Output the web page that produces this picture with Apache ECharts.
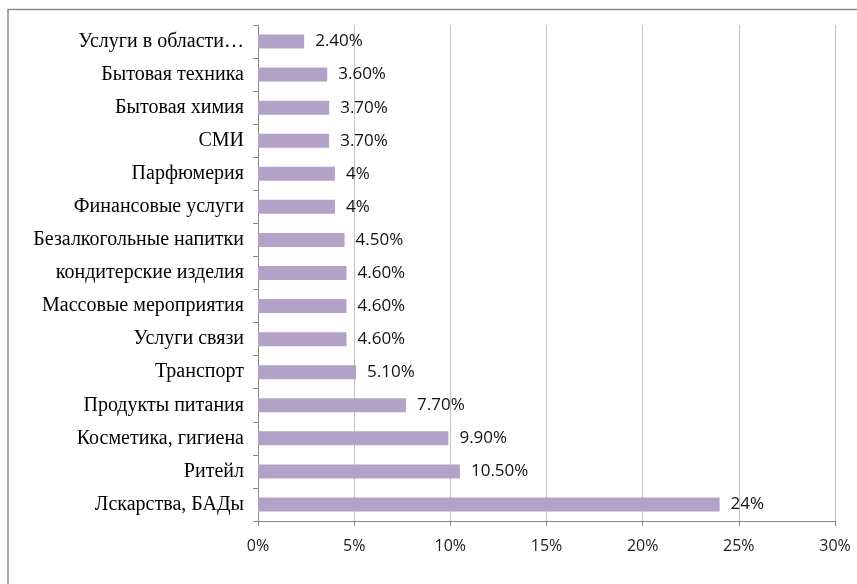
<!DOCTYPE html>
<html>
<head>
<meta charset="utf-8">
<script src="https://cdn.jsdelivr.net/npm/echarts@6/dist/echarts.min.js"></script>
<style>
  html, body { margin: 0; padding: 0; background: #fff; }
  #chart { width: 857px; height: 584px; }
</style>
</head>
<body>
<div id="chart"></div>
<script>
// Categories listed bottom-to-top (ECharts category axis starts at the bottom)
const categories = [
  'Лскарства, БАДы',
  'Ритейл',
  'Косметика, гигиена',
  'Продукты питания',
  'Транспорт',
  'Услуги связи',
  'Массовые мероприятия',
  'кондитерские изделия',
  'Безалкогольные напитки',
  'Финансовые услуги',
  'Парфюмерия',
  'СМИ',
  'Бытовая химия',
  'Бытовая техника',
  'Услуги в области…'
];
const values = [24, 10.5, 9.9, 7.7, 5.1, 4.6, 4.6, 4.6, 4.5, 4, 4, 3.7, 3.7, 3.6, 2.4];
const valueLabels = ['24%', '10.50%', '9.90%', '7.70%', '5.10%', '4.60%', '4.60%', '4.60%', '4.50%', '4%', '4%', '3.70%', '3.70%', '3.60%', '2.40%'];
const xTicks = [0, 5, 10, 15, 20, 25, 30];

const chart = echarts.init(document.getElementById('chart'));
chart.setOption({
  animation: false,
  backgroundColor: '#ffffff',
  graphic: [{
    type: 'rect',
    shape: { x: 8, y: 9.5, width: 900, height: 700 },
    style: { fill: 'none', stroke: '#8c8c8c', lineWidth: 1.5 },
    silent: true
  }],
  grid: { left: 258, right: 22, top: 25, bottom: 63, containLabel: false },
  xAxis: {
    type: 'value',
    min: xTicks[0],
    max: xTicks[xTicks.length - 1],
    interval: 5,
    axisLine: { show: true, lineStyle: { color: '#878787', width: 1 } },
    axisTick: { show: true, length: 5, lineStyle: { color: '#878787' } },
    splitLine: { show: true, lineStyle: { color: '#c0c0c0', width: 1 } },
    axisLabel: {
      margin: 17,
      color: '#222',
      fontFamily: 'Open Sans, sans-serif',
      fontSize: 16,
      formatter: v => v + '%'
    }
  },
  yAxis: {
    type: 'category',
    data: categories,
    axisLine: { show: true, lineStyle: { color: '#878787', width: 1 } },
    axisTick: { show: true, length: 5, lineStyle: { color: '#878787' } },
    axisLabel: {
      margin: 14,
      color: '#000',
      fontFamily: 'Liberation Serif, Times New Roman, serif',
      fontSize: 20
    }
  },
  series: [{
    type: 'bar',
    data: values,
    barWidth: 14,
    itemStyle: { color: '#b3a2c7' },
    label: {
      show: true,
      position: 'right',
      distance: 11,
      color: '#111',
      fontFamily: 'Open Sans, sans-serif',
      fontSize: 17,
      formatter: p => valueLabels[p.dataIndex]
    }
  }]
});
</script>
</body>
</html>
